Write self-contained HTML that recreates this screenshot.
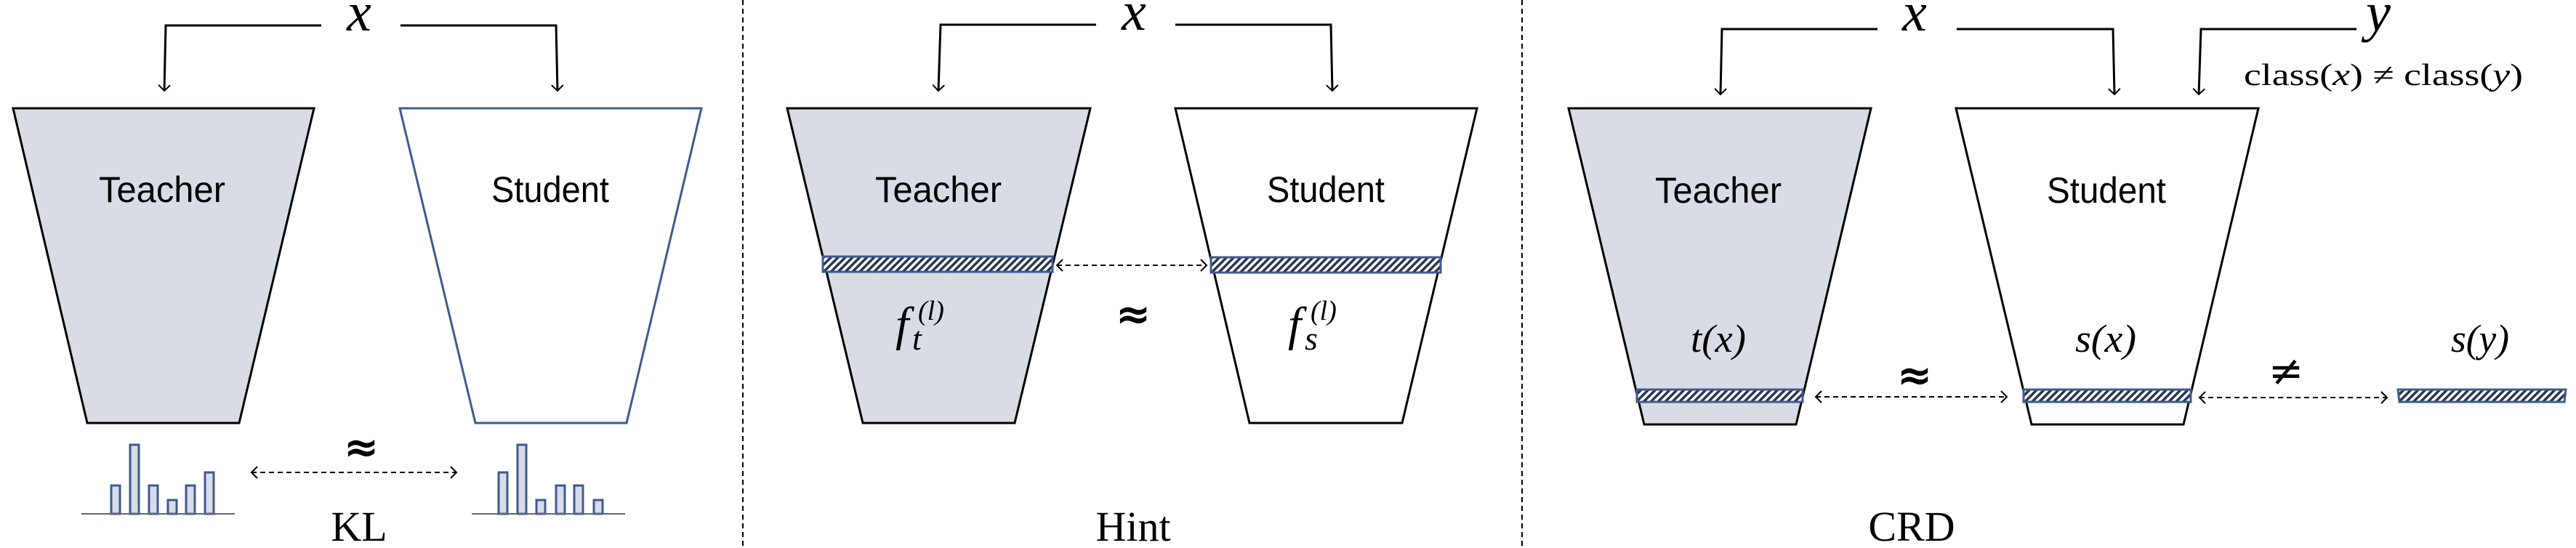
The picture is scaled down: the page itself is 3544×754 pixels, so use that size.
<!DOCTYPE html>
<html><head><meta charset="utf-8"><style>html,body{margin:0;padding:0;background:#fff}svg{display:block}</style></head>
<body>
<svg width="3544" height="754" viewBox="0 0 3544 754" xmlns="http://www.w3.org/2000/svg">
<defs>
<pattern id="h" width="7" height="7" patternUnits="userSpaceOnUse" patternTransform="rotate(45)">
<rect width="7" height="7" fill="#fff"/><rect width="3.5" height="7" fill="#2a3550"/>
</pattern>
<marker id="a" markerWidth="20" markerHeight="20" refX="10" refY="10" orient="auto" markerUnits="userSpaceOnUse">
<path d="M2,2 L10,10 L2,18" fill="none" stroke="#000" stroke-width="2"/>
</marker>
<marker id="as" markerWidth="20" markerHeight="20" refX="10" refY="10" orient="auto-start-reverse" markerUnits="userSpaceOnUse">
<path d="M2,2 L10,10 L2,18" fill="none" stroke="#000" stroke-width="2"/>
</marker>
</defs>
<g font-family="Liberation Sans, sans-serif">
<!-- dividers -->
<line x1="1022" y1="0" x2="1022" y2="754" stroke="#000" stroke-width="2" stroke-dasharray="7,5"/>
<line x1="2094" y1="0" x2="2094" y2="754" stroke="#000" stroke-width="2" stroke-dasharray="7,5"/>

<!-- Panel 1 -->
<polyline points="442,35 228,35 226,125" fill="none" stroke="#000" stroke-width="3" marker-end="url(#a)"/>
<polyline points="551,35 765,35 767,125" fill="none" stroke="#000" stroke-width="3" marker-end="url(#a)"/>
<text x="494" y="42" font-family="Liberation Serif, serif" font-style="italic" font-size="76" text-anchor="middle">x</text>
<polygon points="18,149 432,149 329,582 120,582" fill="#d7dce5" stroke="#000" stroke-width="3"/>
<polygon points="550,149 965,149 862,582 654,582" fill="#fff" stroke="#3f5a8e" stroke-width="3"/>
<text x="223" y="278" font-size="50" text-anchor="middle" textLength="174" lengthAdjust="spacingAndGlyphs">Teacher</text>
<text x="757" y="278" font-size="50" text-anchor="middle" textLength="162" lengthAdjust="spacingAndGlyphs">Student</text>
<g fill="#d7dce8" stroke="#3f5a8e" stroke-width="3">
<rect x="153" y="668" width="12" height="39"/><rect x="179" y="612" width="12" height="95"/><rect x="205" y="668" width="12" height="39"/><rect x="231" y="688" width="12" height="19"/><rect x="256" y="668" width="12" height="39"/><rect x="282" y="650" width="12" height="57"/>
<rect x="686" y="650" width="12" height="57"/><rect x="712" y="612" width="12" height="95"/><rect x="738" y="688" width="12" height="19"/><rect x="765" y="668" width="12" height="39"/><rect x="790" y="668" width="12" height="39"/><rect x="817" y="688" width="12" height="19"/>
</g>
<line x1="112" y1="707" x2="323" y2="707" stroke="#666" stroke-width="2"/>
<line x1="649" y1="707" x2="860" y2="707" stroke="#666" stroke-width="2"/>
<line x1="346" y1="650" x2="628" y2="650" stroke="#000" stroke-width="2" stroke-dasharray="7,5" marker-start="url(#as)" marker-end="url(#as)"/>
<text x="497" y="635" font-family="DejaVu Sans, sans-serif" font-weight="bold" font-size="58" text-anchor="middle">≈</text>
<text x="494" y="744" font-family="Liberation Serif, serif" font-size="58" text-anchor="middle">KL</text>

<!-- Panel 2 -->
<polyline points="1508,34 1294,34 1291,125" fill="none" stroke="#000" stroke-width="3" marker-end="url(#a)"/>
<polyline points="1617,34 1831,34 1833,125" fill="none" stroke="#000" stroke-width="3" marker-end="url(#a)"/>
<text x="1560" y="41" font-family="Liberation Serif, serif" font-style="italic" font-size="76" text-anchor="middle">x</text>
<polygon points="1083,149 1500,149 1396,582 1187,582" fill="#d7dce5" stroke="#000" stroke-width="3"/>
<polygon points="1617,149 2032,149 1929,582 1719,582" fill="#fff" stroke="#000" stroke-width="3"/>
<rect x="1132" y="353" width="316" height="21" fill="url(#h)" stroke="#3f5a8e" stroke-width="3"/>
<rect x="1666" y="354" width="316" height="21" fill="url(#h)" stroke="#3f5a8e" stroke-width="3"/>
<text x="1291" y="278" font-size="50" text-anchor="middle" textLength="174" lengthAdjust="spacingAndGlyphs">Teacher</text>
<text x="1824" y="278" font-size="50" text-anchor="middle" textLength="162" lengthAdjust="spacingAndGlyphs">Student</text>
<line x1="1454" y1="365" x2="1660" y2="365" stroke="#000" stroke-width="2" stroke-dasharray="7,5" marker-start="url(#as)" marker-end="url(#as)"/>
<text x="1559" y="452" font-family="DejaVu Sans, sans-serif" font-weight="bold" font-size="58" text-anchor="middle">≈</text>
<g font-family="Liberation Serif, serif" font-style="italic">
<text x="1232" y="468" font-size="66">f</text><text x="1255" y="481" font-size="46">t</text><text x="1263" y="440" font-size="38">(l)</text>
<text x="1772" y="468" font-size="66">f</text><text x="1795" y="481" font-size="46">s</text><text x="1803" y="440" font-size="38">(l)</text>
</g>
<text x="1559" y="744" font-family="Liberation Serif, serif" font-size="58" text-anchor="middle">Hint</text>

<!-- Panel 3 -->
<polyline points="2583,40 2369,40 2367,130" fill="none" stroke="#000" stroke-width="3" marker-end="url(#a)"/>
<polyline points="2692,40 2907,40 2909,130" fill="none" stroke="#000" stroke-width="3" marker-end="url(#a)"/>
<polyline points="3242,40 3028,40 3025,130" fill="none" stroke="#000" stroke-width="3" marker-end="url(#a)"/>
<text x="2634" y="42" font-family="Liberation Serif, serif" font-style="italic" font-size="76" text-anchor="middle">x</text>
<text x="3272" y="42" font-family="Liberation Serif, serif" font-style="italic" font-size="76" text-anchor="middle">y</text>
<text x="3279" y="117" font-family="Liberation Serif, serif" font-size="42" text-anchor="middle" textLength="384" lengthAdjust="spacingAndGlyphs">class(<tspan font-style="italic">x</tspan>) ≠ class(<tspan font-style="italic">y</tspan>)</text>
<polygon points="2158,149 2574,149 2471,584 2262,584" fill="#d7dce5" stroke="#000" stroke-width="3"/>
<polygon points="2691,149 3107,149 3004,584 2795,584" fill="#fff" stroke="#000" stroke-width="3"/>
<rect x="2252" y="536" width="228" height="17" fill="url(#h)" stroke="#3f5a8e" stroke-width="3"/>
<rect x="2784" y="536" width="230" height="17" fill="url(#h)" stroke="#3f5a8e" stroke-width="3"/>
<polygon points="3299,536 3530,536 3528,553 3301,553" fill="url(#h)" stroke="#3f5a8e" stroke-width="3"/>
<text x="2364" y="279" font-size="50" text-anchor="middle" textLength="174" lengthAdjust="spacingAndGlyphs">Teacher</text>
<text x="2898" y="279" font-size="50" text-anchor="middle" textLength="164" lengthAdjust="spacingAndGlyphs">Student</text>
<g font-family="Liberation Serif, serif" font-style="italic" font-size="54" text-anchor="middle">
<text x="2364" y="484" textLength="76" lengthAdjust="spacingAndGlyphs">t(x)</text>
<text x="2897" y="484" textLength="84" lengthAdjust="spacingAndGlyphs">s(x)</text>
<text x="3412" y="484" textLength="80" lengthAdjust="spacingAndGlyphs">s(y)</text>
</g>
<line x1="2498" y1="546" x2="2761" y2="546" stroke="#000" stroke-width="2" stroke-dasharray="7,5" marker-start="url(#as)" marker-end="url(#as)"/>
<line x1="3026" y1="547" x2="3284" y2="547" stroke="#000" stroke-width="2" stroke-dasharray="7,5" marker-start="url(#as)" marker-end="url(#as)"/>
<text x="2634" y="536" font-family="DejaVu Sans, sans-serif" font-weight="bold" font-size="58" text-anchor="middle">≈</text>
<text x="3145" y="530" font-family="DejaVu Sans, sans-serif" font-size="58" text-anchor="middle">≠</text>
<text x="2630" y="744" font-family="Liberation Serif, serif" font-size="58" text-anchor="middle">CRD</text>
</g>
</svg>
</body></html>
